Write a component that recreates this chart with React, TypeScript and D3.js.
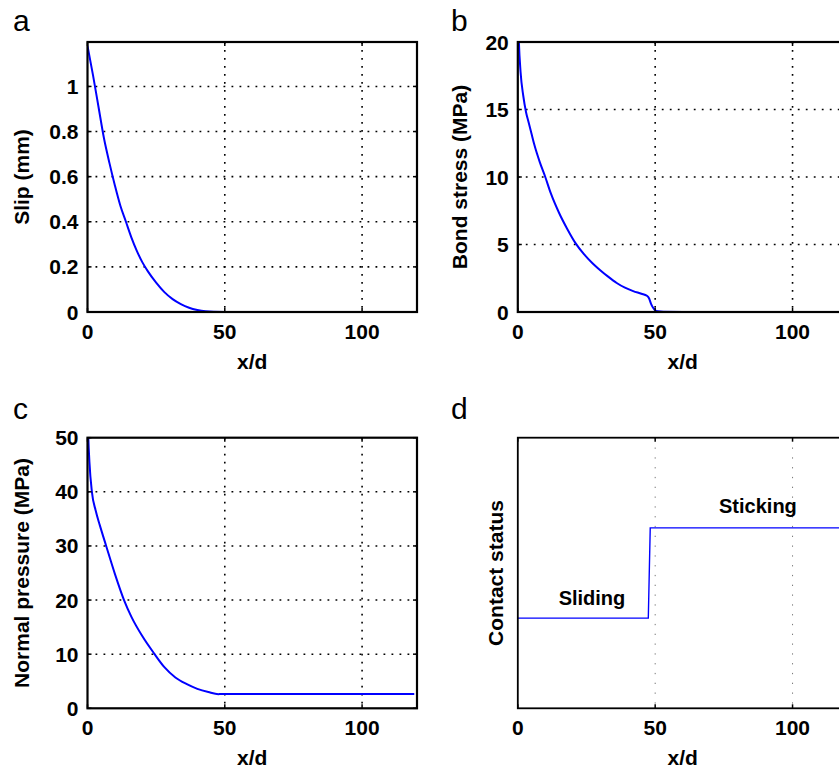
import React from "react";
import * as d3 from "d3";

// ---------- data ----------
const xTicks = [0, 50, 100];

const slipX = [0, 2, 4, 6, 8, 10, 12, 14, 16, 18, 20, 22, 25, 28, 31, 34, 37, 40, 43, 46, 50, 60, 80, 100, 120];
const slipY = [1.18, 1.05, 0.91, 0.77, 0.66, 0.56, 0.47, 0.4, 0.33, 0.27, 0.22, 0.18, 0.13, 0.088, 0.057, 0.035, 0.019, 0.009, 0.003, 0.0006, 0, 0, 0, 0, 0];
const slipTicks = [0, 0.2, 0.4, 0.6, 0.8, 1];

const bondX = [0, 0.4, 1, 2, 3, 4, 5, 6, 8, 10, 12, 15, 18, 21, 24, 27, 30, 33, 36, 39, 42, 45, 47, 47.8, 48.5, 49.3, 50, 51, 53, 60, 80, 100, 120];
const bondY = [23, 20, 17.8, 16, 14.8, 14, 13.2, 12.4, 11.1, 10, 8.8, 7.35, 6.15, 5.1, 4.3, 3.65, 3.1, 2.6, 2.15, 1.8, 1.55, 1.35, 1.2, 1.0, 0.6, 0.3, 0.12, 0.05, 0.01, 0, 0, 0, 0];
const bondTicks = [0, 5, 10, 15, 20];

const pressX = [0, 0.3, 0.7, 1.6, 3, 4.5, 6.8, 10, 13.3, 16, 20, 24.3, 28, 32, 36, 40, 44, 47.7, 48.5, 80, 100, 119];
const pressY = [56, 50, 45.5, 40, 36.5, 33.8, 30, 24.8, 20, 16.9, 13.3, 10.1, 7.6, 5.7, 4.5, 3.6, 3.0, 2.6, 2.65, 2.65, 2.65, 2.65];
const pressTicks = [0, 10, 20, 30, 40, 50];

const statusX = [0, 47.5, 48.2, 120];
const statusY = [1, 1, 2, 2];
const statusLabels = ["Sliding", "Sticking"];

const FONT = "'Liberation Sans', Arial, Helvetica, sans-serif";
const FS = 21;

type PanelProps = {
  id: string;
  letter: string;
  letterX: number;
  letterY: number;
  left: number;
  right: number;
  top: number;
  bottom: number;
  yDomain: [number, number];
  yTicks: number[];
  xs: number[];
  ys: number[];
  ylabel: string;
  ylabelX: number;
  status?: boolean;
};

function Panel(p: PanelProps) {
  const x = d3.scaleLinear().domain([0, 120]).range([p.left, p.right]);
  const y = d3.scaleLinear().domain(p.yDomain).range([p.bottom, p.top]);
  const pts = p.xs.map((v, i) => [v, p.ys[i]] as [number, number]);
  const line = d3
    .line<[number, number]>()
    .x((d) => x(d[0]))
    .y((d) => y(d[1]))
    .curve(p.status ? d3.curveLinear : d3.curveMonotoneX);
  const gridColor = p.status ? "#777" : "#000";
  const gridW = p.status ? 1 : 1.6;
  const gridDash = p.status ? "1.3 8.5" : "1.8 6.2";
  const tickLen = 4;
  return (
    <g>
      <defs>
        <clipPath id={"clip-" + p.id}>
          <rect x={p.left} y={p.top} width={p.right - p.left} height={p.bottom - p.top} />
        </clipPath>
      </defs>
      {xTicks
        .filter((t) => t > 0)
        .map((t) => (
          <line
            key={"gx" + t}
            x1={x(t)}
            x2={x(t)}
            y1={p.top}
            y2={p.bottom}
            stroke={gridColor}
            strokeWidth={gridW}
            strokeDasharray={gridDash}
          />
        ))}
      {!p.status &&
        p.yTicks
          .filter((t) => t > p.yDomain[0] && t < p.yDomain[1])
          .map((t) => (
            <line
              key={"gy" + t}
              x1={p.left}
              x2={p.right}
              y1={y(t)}
              y2={y(t)}
              stroke={gridColor}
              strokeWidth={gridW}
              strokeDasharray={gridDash}
            />
          ))}
      <path
        d={line(pts) || ""}
        fill="none"
        stroke="#0000ff"
        strokeWidth={p.status ? 1.4 : 2}
        clipPath={`url(#clip-${p.id})`}
      />
      {xTicks.map((t) => (
        <g key={"tx" + t}>
          <line x1={x(t)} x2={x(t)} y1={p.bottom} y2={p.bottom - tickLen} stroke="#000" strokeWidth={1.5} />
          <line x1={x(t)} x2={x(t)} y1={p.top} y2={p.top + tickLen} stroke="#000" strokeWidth={1.5} />
        </g>
      ))}
      {!p.status &&
        p.yTicks.map((t) => (
          <g key={"ty" + t}>
            <line x1={p.left} x2={p.left + tickLen} y1={y(t)} y2={y(t)} stroke="#000" strokeWidth={1.5} />
            <line x1={p.right} x2={p.right - tickLen} y1={y(t)} y2={y(t)} stroke="#000" strokeWidth={1.5} />
          </g>
        ))}
      <rect
        x={p.left}
        y={p.top}
        width={p.right - p.left}
        height={p.bottom - p.top}
        fill="none"
        stroke="#000"
        strokeWidth={p.status ? 1.8 : 2.2}
      />
      {xTicks.map((t) => (
        <text
          key={"lx" + t}
          x={x(t)}
          y={p.bottom + 27}
          textAnchor="middle"
          fontFamily={FONT}
          fontWeight="bold"
          fontSize={FS}
        >
          {t}
        </text>
      ))}
      {!p.status &&
        p.yTicks.map((t) => (
          <text
            key={"ly" + t}
            x={p.left - 9}
            y={y(t) + 7.5}
            textAnchor="end"
            fontFamily={FONT}
            fontWeight="bold"
            fontSize={FS}
          >
            {String(t)}
          </text>
        ))}
      <text
        x={(p.left + p.right) / 2}
        y={p.bottom + 57}
        textAnchor="middle"
        fontFamily={FONT}
        fontWeight="bold"
        fontSize={FS}
      >
        x/d
      </text>
      <text
        transform={`translate(${p.ylabelX},${(p.top + p.bottom) / 2}) rotate(-90)`}
        textAnchor="middle"
        fontFamily={FONT}
        fontWeight="bold"
        fontSize={FS}
      >
        {p.ylabel}
      </text>
      {p.status && (
        <g fontFamily={FONT} fontWeight="bold" fontSize={20} textAnchor="middle">
          <text x={x(27)} y={y(1) - 13}>
            {statusLabels[0]}
          </text>
          <text x={x(87.4)} y={y(2) - 15}>
            {statusLabels[1]}
          </text>
        </g>
      )}
      <text x={p.letterX} y={p.letterY} fontFamily={FONT} fontSize={30}>
        {p.letter}
      </text>
    </g>
  );
}

export default function App() {
  return (
    <svg
      width={839}
      height={770}
      style={{ position: "absolute", left: 0, top: 0, background: "#fff" }}
    >
      <rect x={0} y={0} width={839} height={770} fill="#fff" />
      <Panel
        id="a"
        letter="a"
        letterX={13}
        letterY={31}
        left={87.5}
        right={417}
        top={42}
        bottom={312}
        yDomain={[0, 1.197]}
        yTicks={slipTicks}
        xs={slipX}
        ys={slipY}
        ylabel="Slip (mm)"
        ylabelX={29}
      />
      <Panel
        id="b"
        letter="b"
        letterX={451}
        letterY={31}
        left={517.8}
        right={847.5}
        top={42}
        bottom={312}
        yDomain={[0, 20]}
        yTicks={bondTicks}
        xs={bondX}
        ys={bondY}
        ylabel="Bond stress (MPa)"
        ylabelX={467}
      />
      <Panel
        id="c"
        letter="c"
        letterX={13}
        letterY={419}
        left={87.5}
        right={417}
        top={437.7}
        bottom={708.3}
        yDomain={[0, 50]}
        yTicks={pressTicks}
        xs={pressX}
        ys={pressY}
        ylabel="Normal pressure (MPa)"
        ylabelX={29}
      />
      <Panel
        id="d"
        letter="d"
        letterX={451}
        letterY={419}
        left={517.8}
        right={847.5}
        top={437.7}
        bottom={708.3}
        yDomain={[0, 3]}
        yTicks={[]}
        xs={statusX}
        ys={statusY}
        ylabel="Contact status"
        ylabelX={503}
        status
      />
    </svg>
  );
}
